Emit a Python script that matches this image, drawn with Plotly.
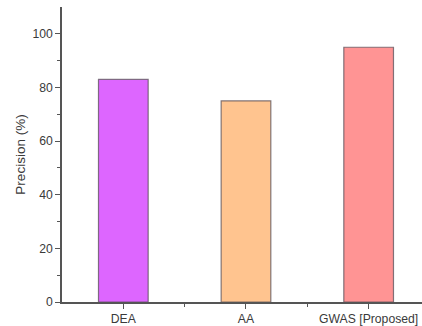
import plotly.graph_objects as go

categories = ["DEA", "AA", "GWAS [Proposed]"]
precision = [83, 75, 95]
bar_colors = ["#DD66FF", "#FFC48F", "#FF9494"]

xpos = list(range(1, len(categories) + 1))

fig = go.Figure()
fig.add_trace(go.Bar(
    x=xpos, y=precision, width=0.405,
    marker=dict(color=bar_colors, line=dict(color="rgba(90,80,90,0.75)", width=1.2)),
))

font_family = "Liberation Sans, Arial, sans-serif"
fig.update_layout(
    width=422, height=326,
    margin=dict(l=62, r=0, t=7, b=24),
    plot_bgcolor="white", paper_bgcolor="white",
    showlegend=False,
    font=dict(family=font_family, size=12, color="#3a3a3a"),
    xaxis=dict(
        range=[0.5, 3.435],
        tickvals=xpos, ticktext=categories,
        showline=True, linecolor="#555", linewidth=1.5,
        ticks="outside", ticklen=5, tickcolor="#555", tickwidth=1.2,
        showgrid=False, zeroline=False,
        minor=dict(tickvals=[1.5, 2.5], ticks="outside", ticklen=3, tickcolor="#555", tickwidth=1.2),
        tickfont=dict(size=12.2, color="#3a3a3a"),
    ),
    yaxis=dict(
        range=[0, 110],
        tickvals=[0, 20, 40, 60, 80, 100],
        showline=True, linecolor="#555", linewidth=1.5,
        ticks="outside", ticklen=5, tickcolor="#555", tickwidth=1.2,
        showgrid=False, zeroline=False,
        minor=dict(tickvals=[10, 30, 50, 70, 90], ticks="outside", ticklen=3, tickcolor="#555", tickwidth=1.2),
        tickfont=dict(size=12.2, color="#3a3a3a"),
        title=dict(text="Precision (%)", font=dict(size=13.5, color="#3a3a3a"), standoff=4),
    ),
)

fig.write_html("out.html", config={"displayModeBar": False},
               post_script="document.body.style.margin='0';")
